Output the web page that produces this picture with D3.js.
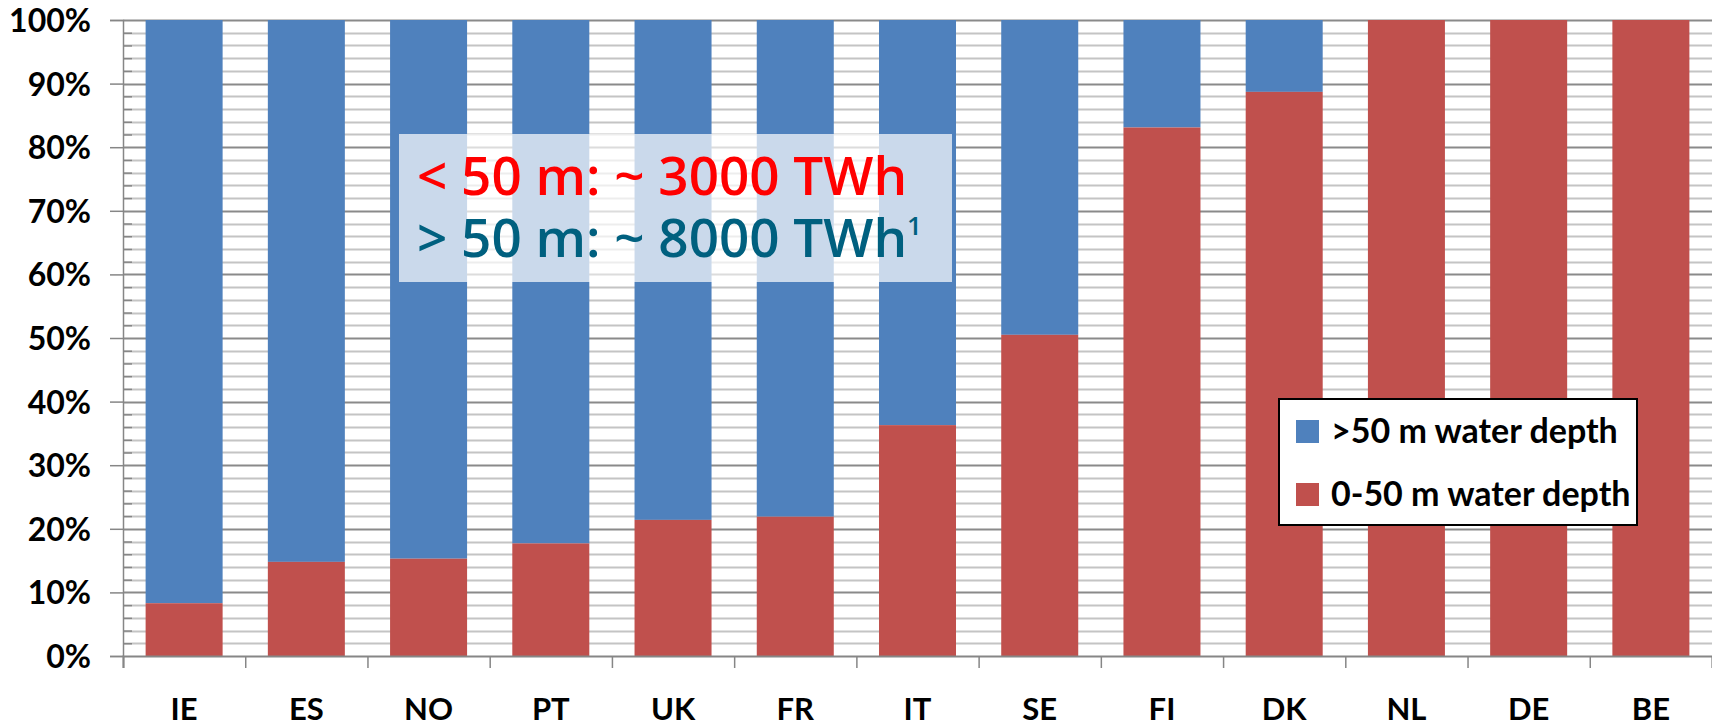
<!DOCTYPE html>
<html>
<head>
<meta charset="utf-8">
<script src="https://cdn.jsdelivr.net/npm/d3@7"></script>
<style>
  html, body { margin: 0; padding: 0; background: #fff; }
  svg { display: block; }
  .lbl { font-family: Lato, "Open Sans", sans-serif; font-weight: 700; fill: #000; }
</style>
</head>
<body>
<svg id="chart" width="1712" height="726"></svg>
<script>
// Offshore wind potential by water depth, share per country
const countries = ["IE", "ES", "NO", "PT", "UK", "FR", "IT", "SE", "FI", "DK", "NL", "DE", "BE"];
const shallowShare = [0.083, 0.148, 0.153, 0.177, 0.214, 0.219, 0.363, 0.505, 0.831, 0.887, 1.0, 1.0, 1.0]; // 0-50 m
const deepShare = shallowShare.map(v => 1 - v);                                                              // >50 m
const seriesNames = [">50 m water depth", "0-50 m water depth"];
const seriesColors = ["#4f81bd", "#c0504d"];
const majorTicks = [0, 0.1, 0.2, 0.3, 0.4, 0.5, 0.6, 0.7, 0.8, 0.9, 1.0];
const calloutLines = ["< 50 m: ~ 3000 TWh", "> 50 m: ~ 8000 TWh"];

const svg = d3.select("#chart");
const W = 1712, plotLeft = 123, plotTop = 20, plotBottom = 656;

const x = d3.scaleBand().domain(countries).range([plotLeft, W]).paddingInner(0.37).paddingOuter(0.185);
const y = d3.scaleLinear().domain([0, 1]).range([plotBottom, plotTop]);

// minor grid every 2 %
const minorTicks = d3.range(0, 51).map(i => i / 50).filter(v => Math.round(v * 50) % 5 !== 0);

const grid = svg.append("g");
grid.selectAll("line.minor").data(minorTicks).join("line")
  .attr("x1", plotLeft).attr("x2", W)
  .attr("y1", d => Math.round(y(d)) + 0.5).attr("y2", d => Math.round(y(d)) + 0.5)
  .attr("stroke", "#c4c4c4").attr("stroke-width", 2);
grid.selectAll("line.major").data(majorTicks.slice(1)).join("line")
  .attr("x1", plotLeft).attr("x2", W)
  .attr("y1", d => Math.round(y(d)) + 0.5).attr("y2", d => Math.round(y(d)) + 0.5)
  .attr("stroke", "#8a8a8a").attr("stroke-width", 2);

// stacked bars
const rows = countries.map((c, i) => ({ c, shallow: shallowShare[i], deep: deepShare[i] }));
const stack = d3.stack().keys(["deep", "shallow"]).order(d3.stackOrderReverse);
const layers = stack(rows);
svg.append("g").selectAll("g").data(layers).join("g")
  .attr("fill", (d, i) => seriesColors[i])
  .selectAll("rect").data(d => d).join("rect")
  .attr("x", d => x(d.data.c))
  .attr("width", x.bandwidth())
  .attr("y", d => y(d[1]))
  .attr("height", d => Math.max(0, y(d[0]) - y(d[1])));

// y axis
const yAxis = svg.append("g").attr("transform", `translate(${plotLeft},0)`)
  .call(d3.axisLeft(y).tickValues(majorTicks).tickSize(13).tickPadding(19).tickFormat(d3.format(".0%")));
yAxis.select(".domain").attr("stroke", "#868686").attr("stroke-width", 1.5);
yAxis.selectAll(".tick line").attr("stroke", "#868686").attr("stroke-width", 1.5);
yAxis.selectAll("text").attr("class", "lbl").attr("font-size", 32).attr("dy", "0.36em");
const yMinor = svg.append("g").attr("transform", `translate(${plotLeft},0)`)
  .call(d3.axisRight(y).tickValues(minorTicks).tickSize(9).tickFormat(""));
yMinor.select(".domain").remove();
yMinor.selectAll(".tick line").attr("stroke", "#868686").attr("stroke-width", 1.5);

// x axis: boundary ticks between categories
const xb = d3.scaleLinear().domain([0, countries.length]).range([plotLeft, W]);
const xAxis = svg.append("g").attr("transform", `translate(0,${plotBottom})`)
  .call(d3.axisBottom(xb).tickValues(d3.range(0, countries.length + 1)).tickSize(12).tickFormat(""));
xAxis.select(".domain").attr("stroke", "#868686").attr("stroke-width", 2);
xAxis.selectAll(".tick line").attr("stroke", "#868686").attr("stroke-width", 1.5);
const xLabels = svg.append("g").attr("transform", `translate(0,${plotBottom})`)
  .call(d3.axisBottom(x).tickSize(0).tickPadding(42));
xLabels.select(".domain").remove();
xLabels.selectAll("text").attr("class", "lbl").attr("font-size", 31);

// callout box
const box = svg.append("g");
box.append("rect").attr("x", 399).attr("y", 134).attr("width", 553).attr("height", 148)
  .attr("fill", "#fff").attr("fill-opacity", 0.7);
const callFont = g => g.attr("font-family", "'Open Sans', sans-serif").attr("font-weight", 600).attr("font-size", 53);
box.append("text").call(callFont).attr("x", 417).attr("y", 195).attr("fill", "#ff0000").text(calloutLines[0]);
const line2 = box.append("text").call(callFont).attr("x", 417).attr("y", 257).attr("fill", "#00607f");
line2.append("tspan").text(calloutLines[1]);
line2.append("tspan").attr("font-size", 26).attr("dy", -22).text("1");

// legend
const lg = svg.append("g").attr("transform", "translate(1279,399)");
lg.append("rect").attr("width", 358).attr("height", 126).attr("fill", "#fff")
  .attr("stroke", "#000").attr("stroke-width", 2);
seriesNames.forEach((name, i) => {
  const row = lg.append("g").attr("transform", `translate(17,${21 + i * 63})`);
  row.append("rect").attr("width", 23).attr("height", 23).attr("fill", seriesColors[i]);
  row.append("text").attr("class", "lbl").attr("x", 35).attr("y", 23).attr("font-size", 34).text(name);
});
</script>
</body>
</html>
